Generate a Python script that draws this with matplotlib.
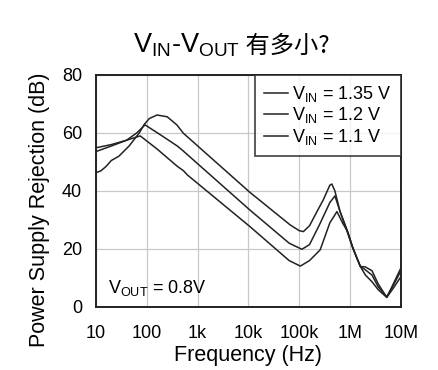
import numpy as np
import matplotlib
matplotlib.use("Agg")
import matplotlib.pyplot as plt

plt.rcParams['font.family'] = ['Liberation Sans', 'Noto Sans CJK SC', 'DejaVu Sans']
plt.rcParams['mathtext.fontset'] = 'custom'
plt.rcParams['mathtext.rm'] = 'Liberation Sans'
plt.rcParams['mathtext.it'] = 'Liberation Sans:italic'

# frequencies as log10(Hz), values in dB
logf_135 = [1.0, 1.1, 1.2, 1.3, 1.45, 1.65, 1.85, 1.95, 2.05, 2.2, 2.4, 2.59, 2.72,
            4.03, 4.82, 5.0, 5.08, 5.2, 5.35, 5.47, 5.6, 5.64, 5.7, 5.8, 5.93,
            6.05, 6.13, 6.2, 6.3, 6.43, 6.55, 6.72, 6.85, 7.0]
psr_135 = [46.3, 47.0, 48.5, 50.5, 52.0, 55.5, 60.0, 63.0, 65.0, 66.2, 65.6, 62.8, 59.9,
           39.5, 28.3, 26.3, 26.0, 28.0, 33.0, 36.9, 42.0, 42.4, 40.0, 33.0, 26.6,
           20.5, 17.0, 14.0, 13.8, 12.5, 8.0, 3.3, 8.0, 13.5]

logf_12 = [1.0, 1.3, 1.6, 1.8, 1.965, 2.3, 2.6, 2.69, 2.8,
           4.03, 4.8, 5.05, 5.2, 5.4, 5.6, 5.7, 5.8, 5.93,
           6.05, 6.13, 6.2, 6.3, 6.43, 6.55, 6.72, 6.85, 7.0]
psr_12 = [53.6, 55.5, 57.5, 60.0, 62.8, 59.0, 55.5, 54.2, 52.5,
          33.4, 22.0, 19.9, 21.5, 28.5, 36.0, 38.3, 33.0, 27.0,
          20.5, 17.0, 14.0, 12.8, 11.0, 7.0, 3.5, 7.5, 12.5]

logf_11 = [1.0, 1.3, 1.6, 1.87, 2.2, 2.6, 2.72, 2.8,
           4.03, 4.8, 5.02, 5.2, 5.41, 5.6, 5.74, 5.85, 5.95,
           6.05, 6.13, 6.2, 6.3, 6.43, 6.55, 6.72, 6.85, 7.0]
psr_11 = [54.9, 56.0, 57.5, 59.0, 54.5, 48.5, 47.0, 45.5,
          27.7, 16.0, 14.1, 16.0, 19.7, 29.0, 32.9, 29.0, 26.0,
          20.5, 17.0, 14.0, 11.0, 8.7, 6.0, 3.3, 6.5, 10.5]

labels = ['V$_{\\mathrm{IN}}$ = 1.35 V', 'V$_{\\mathrm{IN}}$ = 1.2 V', 'V$_{\\mathrm{IN}}$ = 1.1 V']
xticks = [10, 100, 1e3, 1e4, 1e5, 1e6, 1e7]
xticklabels = ['10', '100', '1k', '10k', '100k', '1M', '10M']
yticks = [0, 20, 40, 60, 80]

fig = plt.figure(figsize=(4.39, 3.70), dpi=100)
ax = fig.add_axes([0.2187, 0.1703, 0.6947, 0.627])

for lf, p, lab in zip([logf_135, logf_12, logf_11], [psr_135, psr_12, psr_11], labels):
    ax.plot(10 ** np.array(lf), p, color='#222222', lw=1.1, label=lab)

ax.set_xscale('log')
ax.set_xlim(10, 1e7)
ax.set_ylim(0, 80)
ax.set_xticks(xticks)
ax.set_xticklabels(xticklabels)
ax.set_yticks(yticks)
ax.minorticks_off()
ax.tick_params(length=0, labelsize=13, pad=10)
ax.tick_params(axis='x', pad=13)
ax.grid(True, color='#c8c8c8', lw=0.9)
for s in ax.spines.values():
    s.set_linewidth(1.4)
    s.set_color('#222222')

ax.set_xlabel('Frequency (Hz)', fontsize=15.5, labelpad=2)
ax.set_ylabel('Power Supply Rejection (dB)', fontsize=15.5)
ax.yaxis.set_label_coords(-0.152, 0.42)

leg = ax.legend(loc='upper right', fontsize=13, frameon=True, fancybox=False,
                borderaxespad=0, handlelength=1.3, handletextpad=0.25,
                labelspacing=0.08, borderpad=0.5)
leg.get_frame().set_edgecolor('#222222')
leg.get_frame().set_linewidth(1.3)

ax.text(0.04, 0.08, 'V$_{\\mathrm{OUT}}$ = 0.8V', transform=ax.transAxes, fontsize=13,
        va='center', ha='left')

t1 = fig.text(0.303, 0.859, 'V$_{\\mathrm{IN}}$-V$_{\\mathrm{OUT}}$', fontsize=19.5, va='baseline')
ax.annotate(' 有多小?', xy=(1, 0), xycoords=t1, fontsize=17.5, va='bottom',
            family=['Noto Sans CJK SC', 'DejaVu Sans'], annotation_clip=False)

fig.savefig('out.png', dpi=100)
